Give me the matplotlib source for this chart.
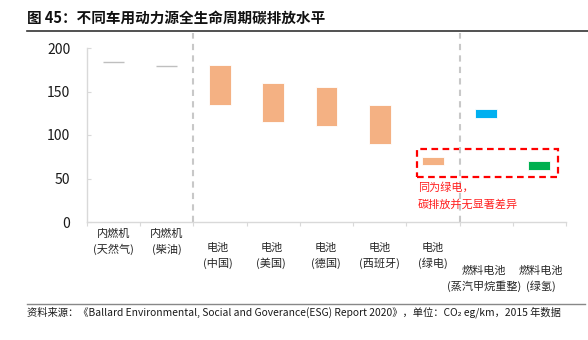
import numpy as np
import matplotlib
matplotlib.use("Agg")
import matplotlib.pyplot as plt
from matplotlib.patches import Rectangle
from matplotlib.lines import Line2D

plt.rcParams['font.family'] = ['Noto Sans CJK SC', 'DejaVu Sans']

# data (CO2 eg/km, low / high of each range)
labels = ["内燃机\n(天然气)", "内燃机\n(柴油)", "电池\n(中国)", "电池\n(美国)",
          "电池\n(德国)", "电池\n(西班牙)", "电池\n(绿电)",
          "燃料电池\n(蒸汽甲烷重整)", "燃料电池\n(绿氢)"]
low = [184, 179, 135, 115, 110, 90, 65, 120, 60]
high = [184, 179, 180, 160, 155, 135, 75, 130, 70]
colors = ["#BFBFBF", "#BFBFBF", "#F4B183", "#F4B183", "#F4B183", "#F4B183",
          "#F4B183", "#00B0F0", "#00B050"]
label_drop = [12, 12, 26, 26, 26, 26, 26, 49, 49]   # px below axis, first line
label_shift = [0, 0, -2, -2, -1, 0, 0, -2, 1]        # px, small horizontal nudges

W, H = 588, 340
fig = plt.figure(figsize=(W / 100, H / 100), dpi=100)
ax = fig.add_axes([87 / W, 1 - 222 / H, (566 - 87) / W, (222 - 48) / H])

x = np.arange(len(labels))
low = np.array(low)
high = np.array(high)
for i in x:
    if high[i] == low[i]:
        ax.hlines(low[i], i - 0.2, i + 0.2, color=colors[i], lw=1)
    else:
        ax.bar(i, high[i] - low[i], bottom=low[i], width=0.41, color=colors[i],
               edgecolor="white", linewidth=0.6)

ax.set_xlim(-0.5, len(labels) - 0.5)
ax.set_ylim(0, 200)
ax.set_yticks([0, 50, 100, 150, 200])
ax.set_xticks(np.arange(-0.5, len(labels), 1))
ax.set_xticklabels([])
ax.tick_params(axis="x", length=3, color="#D9D9D9", direction="out")
ax.tick_params(axis="y", length=3, color="#D9D9D9", direction="in",
               labelsize=10, labelcolor="#1a1a1a", pad=12)
for s in ["top", "right"]:
    ax.spines[s].set_visible(False)
for s in ["left", "bottom"]:
    ax.spines[s].set_color("#D9D9D9")
    ax.spines[s].set_linewidth(1)

# category labels, each line placed on its own
for i, lab in enumerate(labels):
    for k, line in enumerate(lab.split("\n")):
        ax.annotate(line, xy=(i, 0), xycoords=("data", "axes fraction"),
                    xytext=(label_shift[i], -label_drop[i] - 15 * k),
                    textcoords="offset pixels", ha="center", va="center",
                    fontsize=8, color="#262626", annotation_clip=False)

# separators
for xs in [1.5, 6.5]:
    ax.plot([xs, xs], [0, 217], color="#C8C8C8", lw=1.5, ls=(0, (3, 2.5)),
            clip_on=False)

# highlight box
ax.add_patch(Rectangle((5.70, 52), 8.35 - 5.70, 84 - 52, fill=False,
                       edgecolor="#FF0000", lw=1.6, ls=(0, (3, 2)), clip_on=False))
ax.text(5.72, 40, "同为绿电，", color="#FF2020", fontsize=8, va="center", ha="left")
ax.text(5.72, 20.7, "碳排放并无显著差异", color="#FF2020", fontsize=8,
        va="center", ha="left")

# title, rules and source
fig.text(27 / W, 1 - 18 / H, "图 45：不同车用动力源全生命周期碳排放水平",
         fontsize=10.5, fontweight="bold", va="center", ha="left", color="#111111")
fig.add_artist(Line2D([27 / W, 1.0], [1 - 30.5 / H] * 2, color="#333333", lw=1.2))
fig.add_artist(Line2D([27 / W, 585 / W], [1 - 304 / H] * 2, color="#888888", lw=1))
fig.text(27 / W, 1 - 312 / H,
         "资料来源：《Ballard Environmental, Social and Goverance(ESG) Report 2020》，"
         "单位：CO₂ eg/km，2015 年数据",
         fontsize=7.4, va="center", ha="left", color="#1a1a1a")

fig.savefig("out.png", dpi=100)
